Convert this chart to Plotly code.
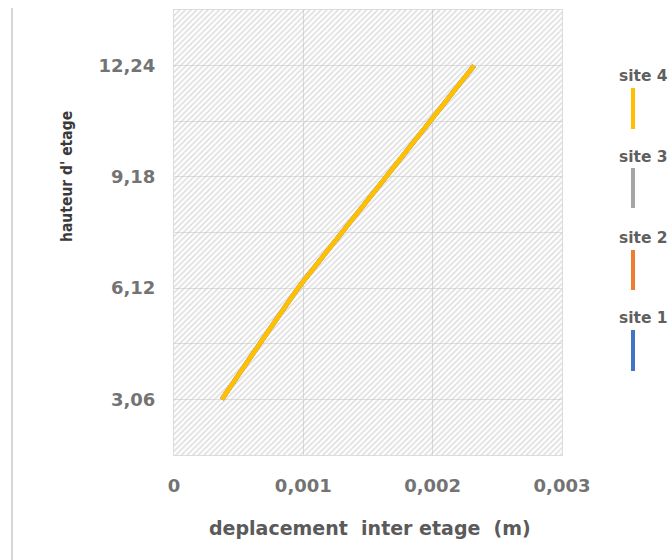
import plotly.graph_objects as go

# ---- data ----
series_names = ["site 1", "site 2", "site 3", "site 4"]
series_colors = ["#4472C4", "#ED7D31", "#A5A5A5", "#FFC000"]
heights = [3.06, 6.12, 9.18, 12.24]
drift_site4 = [0.00037, 0.00096, 0.00164, 0.00232]
drift_by_site = {
    "site 1": drift_site4,
    "site 2": drift_site4,
    "site 3": drift_site4,
    "site 4": drift_site4,
}
x_tickvals = [0, 0.001, 0.002, 0.003]
x_ticktext = ["0", "0,001", "0,002", "0,003"]
y_tickvals = [1.53, 3.06, 4.59, 6.12, 7.65, 9.18, 10.71, 12.24, 13.77]
y_ticktext = ["", "3,06", "", "6,12", "", "9,18", "", "12,24", ""]
x_range = [0, 0.003]
y_range = [1.53, 13.77]

W, H = 669, 560
ML, MR, MT, MB = 174, 107, 10, 105
PW, PH = W - ML - MR, H - MT - MB

def px(X):
    return (X - ML) / PW

def py(Y):
    return (H - MB - Y) / PH

fig = go.Figure()

# hatched plot background
fig.add_trace(go.Scatter(
    x=[x_range[0], x_range[1], x_range[1], x_range[0], x_range[0]],
    y=[y_range[0], y_range[0], y_range[1], y_range[1], y_range[0]],
    mode="none", fill="toself", fillcolor="rgba(0,0,0,0)",
    fillpattern=dict(shape="/", fgcolor="#bdbdbd", bgcolor="rgba(0,0,0,0)",
                     size=4, solidity=0.4),
    hoverinfo="skip", showlegend=False,
))

for name, color in zip(series_names, series_colors):
    fig.add_trace(go.Scatter(
        x=drift_by_site[name], y=heights, mode="lines", name=name,
        line=dict(color=color, width=4.5, shape="spline", smoothing=0.3),
        showlegend=False,
    ))

tick_font = dict(family="DejaVu Sans", size=18, color="#737373", weight="bold")
fig.update_xaxes(range=x_range, tickvals=x_tickvals, ticktext=x_ticktext,
                 showgrid=True, gridcolor="#dcdcdc", gridwidth=1,
                 zeroline=False, showline=True, linecolor="#dcdcdc", mirror=True,
                 ticks="", ticklabelstandoff=14, tickfont=tick_font, fixedrange=True)
fig.update_yaxes(range=y_range, tickvals=y_tickvals, ticktext=y_ticktext,
                 showgrid=True, gridcolor="#e0e0e0", gridwidth=1,
                 zeroline=False, showline=True, linecolor="#dcdcdc", mirror=True,
                 ticks="", ticklabelstandoff=14, tickfont=tick_font, fixedrange=True)

annotations = [
    dict(text="deplacement  inter etage  (m)", x=px(370), y=py(528),
         xanchor="center", yanchor="middle",
         xref="paper", yref="paper", showarrow=False,
         font=dict(family="DejaVu Sans", size=19, color="#5a5a5a", weight="bold")),
    dict(text="hauteur d' etage", x=px(67), y=py(176), textangle=-90,
         xanchor="center", yanchor="middle",
         xref="paper", yref="paper", showarrow=False,
         font=dict(family="DejaVu Sans Condensed, Liberation Sans Narrow, Roboto", size=15.5,
                   color="#3a3a3a", weight="bold")),
]
shapes = [
    dict(type="line", xref="paper", yref="paper", x0=px(12), x1=px(12),
         y0=py(8), y1=py(560), line=dict(color="#d6d6d6", width=2)),
]
legend_rows = [("site 4", 76, 88, 129), ("site 3", 157, 168, 208),
               ("site 2", 238, 250, 290), ("site 1", 318, 330, 371)]
color_of = dict(zip(series_names, series_colors))
for name, ty, l0, l1 in legend_rows:
    annotations.append(dict(text=name, x=px(617), y=py(ty), xref="paper",
                            yref="paper", xanchor="left", yanchor="middle",
                            showarrow=False,
                            font=dict(family="DejaVu Sans", size=15.5, color="#5f5f5f",
                                      weight="bold")))
    shapes.append(dict(type="line", xref="paper", yref="paper",
                       x0=px(633), x1=px(633), y0=py(l0), y1=py(l1),
                       line=dict(color=color_of[name], width=4)))

fig.update_layout(
    width=W, height=H, margin=dict(l=ML, r=MR, t=MT, b=MB),
    paper_bgcolor="white", plot_bgcolor="white",
    annotations=annotations, shapes=shapes, showlegend=False,
)

fig.write_html("out.html")
